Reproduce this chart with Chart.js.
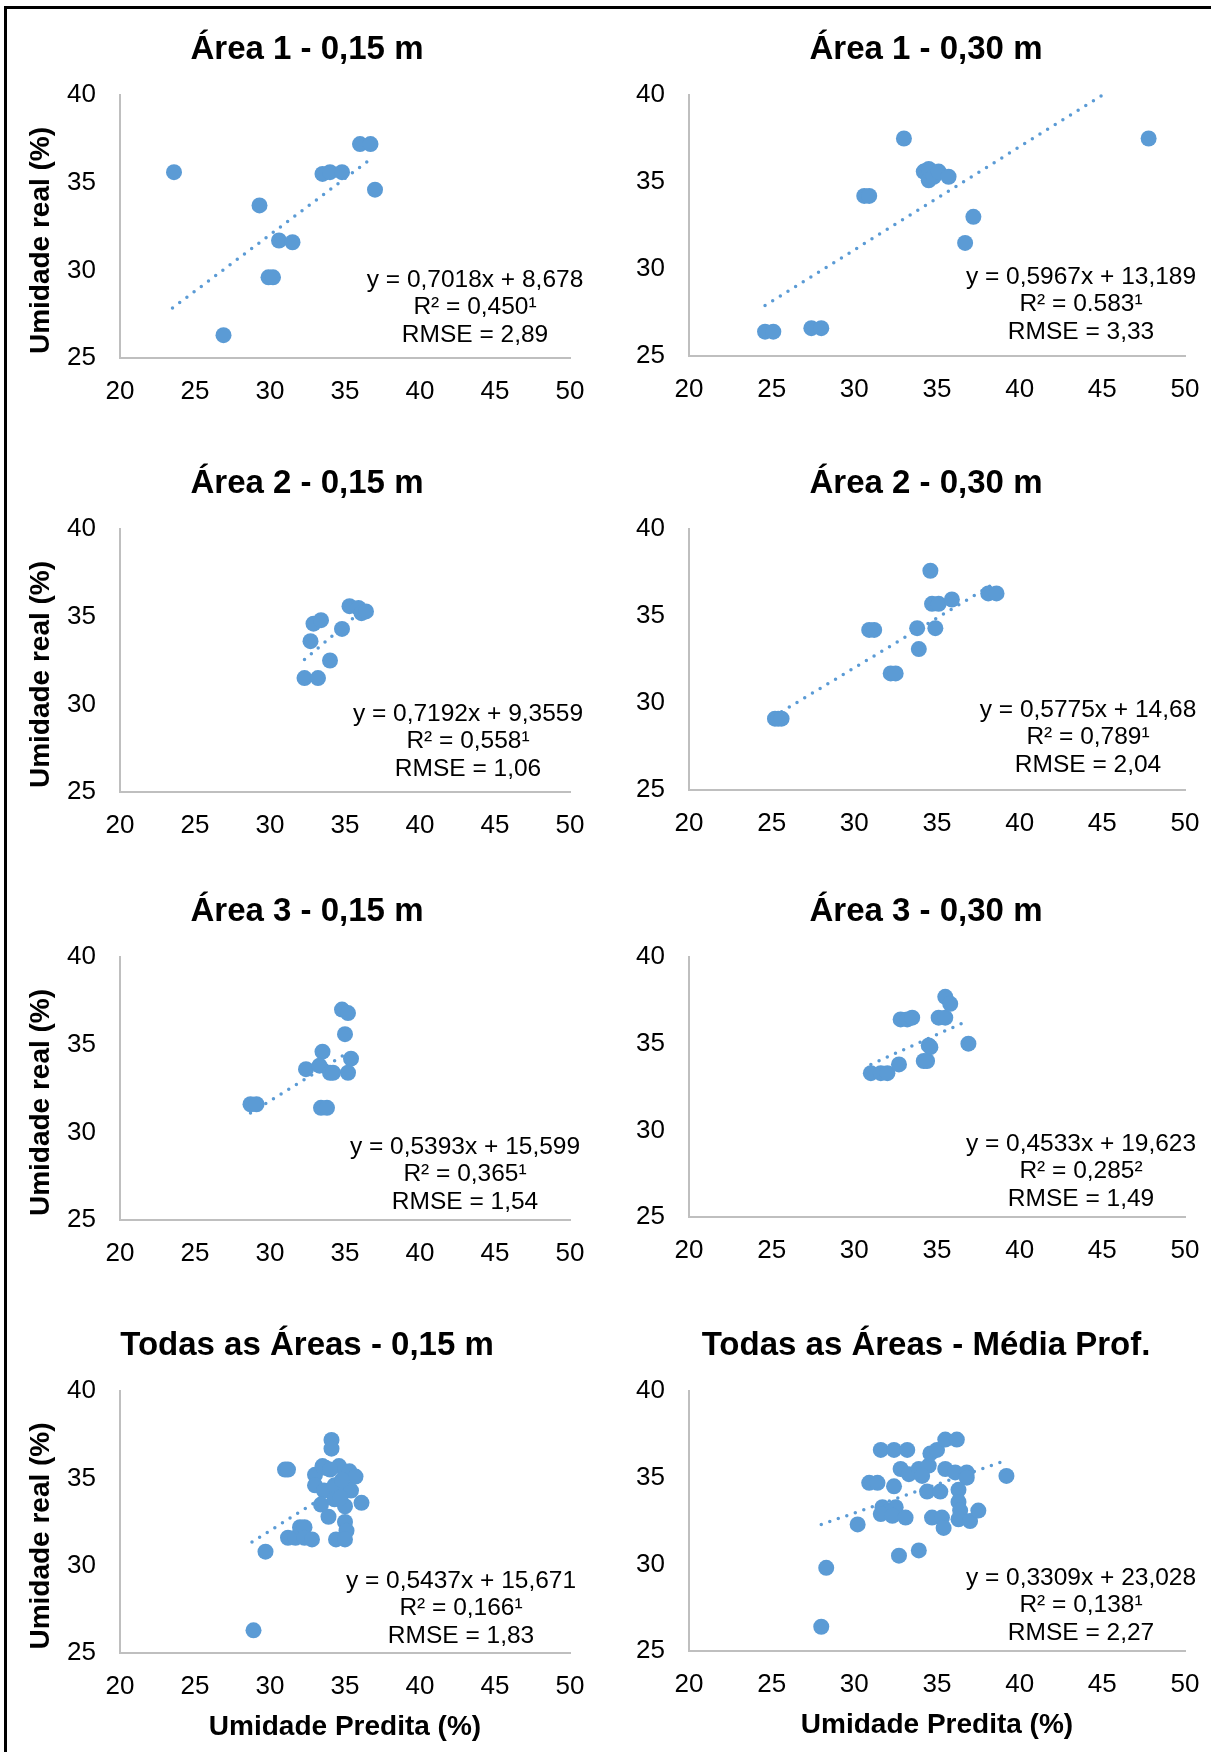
<!DOCTYPE html>
<html><head><meta charset="utf-8">
<script src="https://cdn.jsdelivr.net/npm/chart.js@4.4.1/dist/chart.umd.min.js"></script>
<style>
html,body{margin:0;padding:0;background:#fff;}
#wrap{position:relative;width:1211px;height:1752px;overflow:hidden;background:#fff;}
#frame{position:absolute;left:4px;top:6px;width:1400px;height:1900px;border-left:3px solid #000;border-top:3px solid #000;}
canvas{position:absolute;}
</style></head><body><div id="wrap"><div id="frame"></div></div>
<script>
// ---------- data ----------
const xTicks = [20, 25, 30, 35, 40, 45, 50];
const yTicks = [25, 30, 35, 40];
const titles = ["Área 1 - 0,15 m", "Área 1 - 0,30 m", "Área 2 - 0,15 m", "Área 2 - 0,30 m",
                "Área 3 - 0,15 m", "Área 3 - 0,30 m", "Todas as Áreas - 0,15 m", "Todas as Áreas - Média Prof."];
const yAxisTitle = "Umidade real (%)";
const xAxisTitle = "Umidade Predita (%)";

const pred1 = [23.6, 26.9, 29.3, 29.9, 30.2, 30.6, 31.5, 33.5, 34.0, 34.8, 36.0, 36.7, 37.0];
const real1 = [35.6, 26.3, 33.7, 29.6, 29.6, 31.7, 31.6, 35.5, 35.6, 35.6, 37.2, 37.2, 34.6];
const trendX1 = [23.5, 36.8];
const trendY1 = [27.85, 36.4];
const eq1 = ["y = 0,7018x + 8,678", "R² = 0,450¹", "RMSE = 2,89"];

const pred2 = [24.6, 25.1, 27.4, 28.0, 30.6, 30.9, 33.0, 34.2, 34.5, 34.5, 34.8, 35.1, 35.7, 36.7, 37.2, 47.8];
const real2 = [26.4, 26.4, 26.6, 26.6, 34.2, 34.2, 37.5, 35.6, 35.75, 35.1, 35.3, 35.6, 35.3, 31.5, 33.0, 37.5];
const trendX2 = [24.6, 45.1];
const trendY2 = [27.9, 40.05];
const eq2 = ["y = 0,5967x + 13,189", "R² = 0.583¹", "RMSE = 3,33"];

const pred3 = [32.3, 33.2, 34.0, 32.7, 32.9, 33.4, 34.8, 35.3, 35.9, 36.1, 36.4];
const real3 = [31.5, 31.5, 32.5, 33.6, 34.6, 34.8, 34.3, 35.6, 35.5, 35.2, 35.3];
const trendX3 = [32.3, 36.2];
const trendY3 = [32.55, 35.4];
const eq3 = ["y = 0,7192x + 9,3559", "R² = 0,558¹", "RMSE = 1,06"];

const pred4 = [25.2, 25.4, 25.6, 30.9, 31.2, 32.2, 32.5, 33.9, 33.8, 34.9, 34.6, 34.7, 35.1, 35.9, 38.1, 38.6];
const real4 = [29.1, 29.1, 29.1, 34.2, 34.2, 31.7, 31.7, 33.1, 34.3, 34.3, 37.6, 35.7, 35.7, 35.95, 36.3, 36.3];
const trendX4 = [25.6, 38.6];
const trendY4 = [29.5, 36.95];
const eq4 = ["y = 0,5775x + 14,68", "R² = 0,789¹", "RMSE = 2,04"];

const pred5 = [28.7, 29.1, 33.4, 33.8, 32.4, 33.5, 33.3, 34.0, 34.2, 34.8, 35.2, 35.0, 35.4, 35.2];
const real5 = [31.6, 31.6, 31.4, 31.4, 33.6, 34.6, 33.8, 33.4, 33.4, 37.0, 36.8, 35.6, 34.2, 33.4];
const trendX5 = [28.7, 35.2];
const trendY5 = [31.1, 34.55];
const eq5 = ["y = 0,5393x + 15,599", "R² = 0,365¹", "RMSE = 1,54"];

const pred6 = [31.0, 31.6, 32.0, 32.7, 32.8, 33.2, 33.5, 34.2, 34.4, 34.5, 34.6, 35.1, 35.5, 35.5, 35.8, 36.9];
const real6 = [33.3, 33.3, 33.3, 33.8, 36.4, 36.4, 36.5, 34.0, 34.0, 34.9, 34.8, 36.5, 36.5, 37.7, 37.3, 35.0];
const trendX6 = [31.0, 36.8];
const trendY6 = [33.8, 36.3];
const eq6 = ["y = 0,4533x + 19,623", "R² = 0,285²", "RMSE = 1,49"];

const pred7 = [28.9, 29.7, 31.0, 31.2, 31.2, 31.7, 32.0, 32.3, 32.3, 32.8,
               33.0, 33.7, 34.6, 35.3, 35.7, 33.0, 33.6, 34.3, 35.1, 35.4,
               33.4, 34.3, 35.0, 33.9, 36.1, 35.0, 35.1, 34.4, 35.0, 34.1,
               34.1, 33.5, 34.0, 34.8, 34.7];
const real7 = [26.3, 30.8, 35.5, 35.5, 31.6, 31.6, 32.2, 32.2, 31.6, 31.5,
               35.2, 35.6, 35.7, 35.4, 35.1, 34.6, 34.3, 34.6, 34.4, 34.3,
               33.5, 33.8, 33.4, 32.8, 33.6, 32.5, 32.0, 31.5, 31.5, 37.2,
               36.7, 35.7, 35.5, 34.9, 33.9];
const trendX7 = [28.8, 35.9];
const trendY7 = [31.35, 35.2];
const eq7 = ["y = 0,5437x + 15,671", "R² = 0,166¹", "RMSE = 1,83"];

const pred8 = [28.0, 28.3, 30.2, 30.9, 31.4, 31.6, 32.4, 33.2, 32.8, 33.3,
               33.9, 34.5, 34.1, 35.5, 36.1, 36.8, 36.8, 34.6, 35.0, 35.5,
               36.2, 32.4, 34.4, 35.2, 36.3, 36.3, 36.4, 31.7, 32.5, 32.0,
               31.6, 32.3, 33.1, 34.7, 35.3, 35.4, 36.3, 37.0, 37.5, 39.2,
               32.7, 33.9];
const real8 = [26.4, 29.8, 32.3, 34.7, 34.7, 36.6, 36.6, 36.6, 35.5, 35.2,
               35.5, 35.7, 35.1, 35.5, 35.3, 35.3, 35.0, 36.4, 36.6, 37.2,
               37.2, 34.5, 34.2, 34.2, 34.3, 33.6, 33.1, 33.3, 33.3, 33.0,
               32.9, 32.8, 32.7, 32.7, 32.7, 32.1, 32.6, 32.5, 33.1, 35.1,
               30.5, 30.8];
const trendX8 = [28.0, 39.2];
const trendY8 = [32.3, 36.0];
const eq8 = ["y = 0,3309x + 23,028", "R² = 0,138¹", "RMSE = 2,27"];

// ---------- layout ----------
const COLOR = '#5B9BD5';
const FONT = '"Liberation Sans", Arial, sans-serif';
const cols = [
  {cl: 0, cw: 605, left: 120, right: 570, titleX: 307},
  {cl: 605, cw: 650, left: 689, right: 1185, titleX: 926}
];
const panels = [
  {c: 0, top: 95, bottom: 358, xs: pred1, ys: real1, tx: trendX1, ty: trendY1, eq: eq1, eqX: 475, eqY: 280},
  {c: 1, top: 95, bottom: 356, xs: pred2, ys: real2, tx: trendX2, ty: trendY2, eq: eq2, eqX: 1081, eqY: 277},
  {c: 0, top: 529, bottom: 792, xs: pred3, ys: real3, tx: trendX3, ty: trendY3, eq: eq3, eqX: 468, eqY: 714},
  {c: 1, top: 529, bottom: 790, xs: pred4, ys: real4, tx: trendX4, ty: trendY4, eq: eq4, eqX: 1088, eqY: 710},
  {c: 0, top: 957, bottom: 1220, xs: pred5, ys: real5, tx: trendX5, ty: trendY5, eq: eq5, eqX: 465, eqY: 1147},
  {c: 1, top: 957, bottom: 1217, xs: pred6, ys: real6, tx: trendX6, ty: trendY6, eq: eq6, eqX: 1081, eqY: 1144},
  {c: 0, top: 1391, bottom: 1653, xs: pred7, ys: real7, tx: trendX7, ty: trendY7, eq: eq7, eqX: 461, eqY: 1581, xTitle: true},
  {c: 1, top: 1391, bottom: 1651, xs: pred8, ys: real8, tx: trendX8, ty: trendY8, eq: eq8, eqX: 1081, eqY: 1578, xTitle: true}
];

const textPlugin = {
  id: 'panelText',
  afterDraw(chart, args, o) {
    const ctx = chart.ctx, ca = chart.chartArea;
    ctx.save();
    ctx.fillStyle = '#000';
    ctx.textAlign = 'center';
    ctx.textBaseline = 'middle';
    ctx.font = 'bold 33px ' + FONT;
    ctx.fillText(o.title, o.titleX - o.cl, ca.top - 45);
    ctx.font = '24.5px ' + FONT;
    o.eq.forEach((s, i) => ctx.fillText(s, o.eqX - o.cl, o.eqY - o.ct + i * 27.5));
    ctx.font = 'bold 28px ' + FONT;
    if (o.yTitle) {
      ctx.save();
      ctx.translate(41 - o.cl, (ca.top + ca.bottom) / 2 + 14);
      ctx.rotate(-Math.PI / 2);
      ctx.fillText(o.yTitle, 0, 0);
      ctx.restore();
    }
    if (o.xTitle) ctx.fillText(o.xTitle, (ca.left + ca.right) / 2, ca.bottom + 74);
    ctx.restore();
  }
};

const wrap = document.getElementById('wrap');
panels.forEach((p, i) => {
  const col = cols[p.c];
  const ct = p.top - 92;
  const cb = p.xTitle ? 1752 : p.bottom + 60;
  const ch = cb - ct;
  const cv = document.createElement('canvas');
  cv.width = col.cw; cv.height = ch;
  cv.style.left = col.cl + 'px'; cv.style.top = ct + 'px';
  cv.style.width = col.cw + 'px'; cv.style.height = ch + 'px';
  wrap.appendChild(cv);
  const yW = col.left - col.cl;
  const xH = ct + ch - p.bottom;
  new Chart(cv, {
    type: 'scatter',
    data: {
      datasets: [
        {data: p.xs.map((x, k) => ({x: x, y: p.ys[k]})), backgroundColor: COLOR, borderWidth: 0,
         pointRadius: 8, pointHoverRadius: 8},
        {type: 'line', data: p.tx.map((x, k) => ({x: x, y: p.ty[k]})), borderColor: COLOR, borderWidth: 3.5,
         borderDash: [0, 9], borderCapStyle: 'round', pointRadius: 0, fill: false, tension: 0, clip: false}
      ]
    },
    options: {
      responsive: false, animation: false, devicePixelRatio: 1,
      layout: {padding: {left: 0, top: p.top - ct, right: col.cl + col.cw - col.right, bottom: 0}},
      plugins: {legend: {display: false}, tooltip: {enabled: false}, title: {display: false},
        panelText: {title: titles[i], titleX: col.titleX, cl: col.cl, ct: ct, eq: p.eq, eqX: p.eqX, eqY: p.eqY,
          yTitle: p.c === 0 ? yAxisTitle : null, xTitle: p.xTitle ? xAxisTitle : null}},
      scales: {
        x: {type: 'linear', min: 20, max: 50,
            afterBuildTicks: s => { s.ticks = xTicks.map(v => ({value: v})); },
            afterFit: s => { s.height = xH; },
            grid: {display: false, drawTicks: false},
            border: {display: true, color: '#BFBFBF', width: 2},
            ticks: {padding: 18, color: '#000', font: {family: FONT, size: 26}, maxRotation: 0, autoSkip: false}},
        y: {type: 'linear', min: 25, max: 40,
            afterBuildTicks: s => { s.ticks = yTicks.map(v => ({value: v})); },
            afterFit: s => { s.width = yW; },
            grid: {display: false, drawTicks: false},
            border: {display: true, color: '#BFBFBF', width: 2},
            ticks: {padding: 24, color: '#000', font: {family: FONT, size: 26}}}
      }
    },
    plugins: [textPlugin]
  });
});
</script></body></html>
